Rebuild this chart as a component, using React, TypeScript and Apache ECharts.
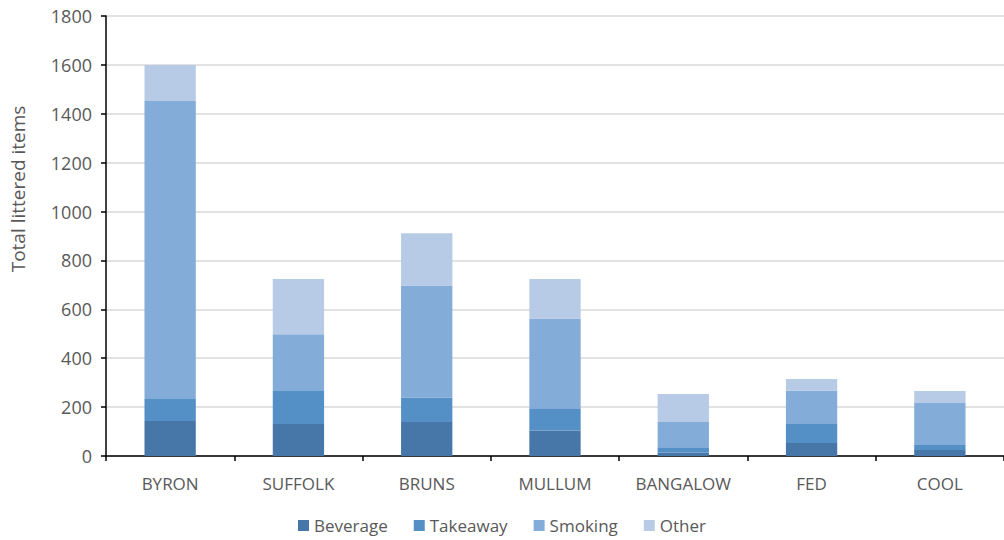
import React, { useEffect, useRef } from "react";
import * as echarts from "echarts";

// Littered items counted per site, split by item type
const sites = ["BYRON", "SUFFOLK", "BRUNS", "MULLUM", "BANGALOW", "FED", "COOL"];
const beverage = [143, 131, 139, 104, 14, 53, 25];
const takeaway = [90, 135, 100, 88, 22, 81, 20];
const smoking = [1219, 232, 459, 370, 103, 133, 172];
const other = [148, 226, 213, 162, 115, 48, 49];

const seriesNames = ["Beverage", "Takeaway", "Smoking", "Other"];
const seriesColors = ["#4677a8", "#548fc6", "#84acd9", "#b7cbe6"];
const yTitle = "Total littered items";

const textColor = "#595959";
const fontFamily = "'Open Sans', 'Liberation Sans', sans-serif";

export default function App() {
  const ref = useRef<HTMLDivElement>(null);

  useEffect(() => {
    if (!ref.current) return;
    const chart = echarts.init(ref.current, undefined, { renderer: "svg" });
    const values = [beverage, takeaway, smoking, other];
    chart.setOption({
      animation: false,
      backgroundColor: "#ffffff",
      textStyle: { fontFamily },
      grid: { left: 106, right: 0, top: 16, bottom: 84, containLabel: false },
      legend: {
        top: 512,
        left: "center",
        itemWidth: 11,
        itemHeight: 11,
        itemGap: 26,
        icon: "rect",
        textStyle: { color: textColor, fontSize: 17, fontFamily },
        data: seriesNames,
      },
      graphic: [
        {
          type: "text",
          x: 18,
          y: 189,
          rotation: Math.PI / 2,
          style: {
            text: yTitle,
            fill: textColor,
            fontSize: 19,
            fontFamily,
            textAlign: "center",
            textVerticalAlign: "middle",
          },
        },
      ],
      xAxis: {
        type: "category",
        data: sites,
        boundaryGap: true,
        axisLine: { lineStyle: { color: "#000000", width: 1.5 } },
        axisTick: { show: true, length: 5, alignWithLabel: false, lineStyle: { color: "#000000", width: 1.5 } },
        axisLabel: { color: textColor, fontSize: 17, margin: 19, fontFamily },
      },
      yAxis: {
        type: "value",
        min: 0,
        max: 1800,
        interval: 200,
        axisLine: { show: true, lineStyle: { color: "#000000", width: 1.5 } },
        axisTick: { show: true, length: 5, lineStyle: { color: "#000000", width: 1.5 } },
        axisLabel: {
          color: textColor,
          fontSize: 18,
          margin: 14,
          fontFamily,
          formatter: (v: number) => String(v),
        },
        splitLine: { lineStyle: { color: "#d9d9d9", width: 1.5 } },
      },
      series: seriesNames.map((name, i) => ({
        name,
        type: "bar",
        stack: "total",
        barWidth: "40%",
        data: values[i],
        itemStyle: { color: seriesColors[i] },
      })),
    });
    return () => chart.dispose();
  }, []);

  return (
    <div
      ref={ref}
      style={{ position: "fixed", left: 0, top: 0, width: 1004, height: 540 }}
    />
  );
}
